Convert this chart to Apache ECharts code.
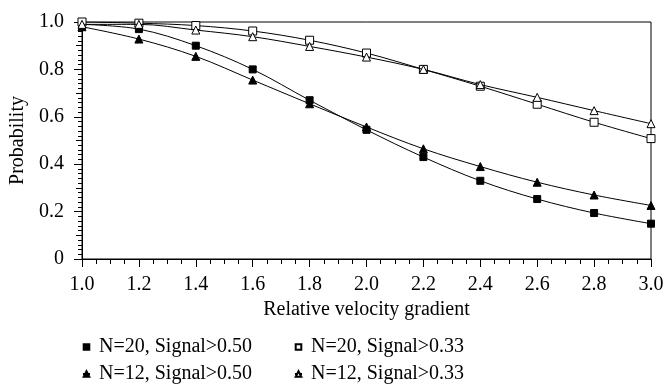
<!DOCTYPE html>
<html>
<head>
<meta charset="utf-8">
<script src="https://cdn.jsdelivr.net/npm/echarts@6/dist/echarts.min.js"></script>
<style>html,body{margin:0;padding:0;background:#fff;}#c{width:669px;height:385px;}</style>
</head>
<body>
<div id="c"></div>
<script>
var xValues = [1.0, 1.2, 1.4, 1.6, 1.8, 2.0, 2.2, 2.4, 2.6, 2.8, 3.0];
var n20s50 = [0.99, 0.97, 0.90, 0.80, 0.67, 0.545, 0.43, 0.33, 0.253, 0.194, 0.149];
var n20s33 = [1.0, 0.995, 0.985, 0.962, 0.923, 0.869, 0.80, 0.729, 0.653, 0.577, 0.508];
var n12s50 = [0.98, 0.928, 0.855, 0.755, 0.655, 0.557, 0.465, 0.39, 0.324, 0.27, 0.226];
var n12s33 = [0.99, 0.99, 0.966, 0.938, 0.897, 0.852, 0.80, 0.736, 0.682, 0.626, 0.571];
var seriesNames = ['N=20, Signal>0.50', 'N=20, Signal>0.33', 'N=12, Signal>0.50', 'N=12, Signal>0.33'];
var yTickLabels = ['0', '0.2', '0.4', '0.6', '0.8', '1.0'];

function pairs(arr) { return xValues.map(function (x, i) { return [x, arr[i]]; }); }
var FONT = 'Liberation Serif';

function mkSeries(name, data, symbol, filled, size, z) {
  return {
    name: name, type: 'line', data: pairs(data), smooth: 0.35,
    symbol: symbol, symbolSize: size, z: z,
    lineStyle: { color: '#000', width: 1 },
    itemStyle: { color: filled ? '#000' : '#fff', borderColor: '#000', borderWidth: 1 },
    emphasis: { disabled: true }
  };
}

function mkLegend(name, left, top) {
  return {
    data: [name], left: left, top: top, padding: 0, itemGap: 0,
    itemWidth: 7, itemHeight: 7, selectedMode: false,
    textStyle: { fontFamily: FONT, fontSize: 20, color: '#000', padding: [0, 0, 0, 4] }
  };
}

var chart = echarts.init(document.getElementById('c'), null, { renderer: 'canvas' });
chart.setOption({
  animation: false,
  backgroundColor: '#fff',
  grid: { left: 82, right: 18, top: 22, bottom: 126, show: true, borderColor: '#000', borderWidth: 1, backgroundColor: 'transparent' },
  legend: [
    mkLegend(seriesNames[0], 82, 337),
    mkLegend(seriesNames[1], 294, 337),
    mkLegend(seriesNames[2], 82, 364),
    mkLegend(seriesNames[3], 294, 364)
  ],
  xAxis: {
    type: 'value', min: 1.0, max: 3.0, interval: 0.2,
    name: 'Relative velocity gradient', nameLocation: 'middle', nameGap: 41,
    nameTextStyle: { fontFamily: FONT, fontSize: 20, color: '#000' },
    axisLine: { lineStyle: { color: '#000', width: 1 } },
    axisTick: { show: true, inside: false, length: 8, lineStyle: { color: '#000' } },
    minorTick: { show: true, splitNumber: 4, length: 5, lineStyle: { color: '#000' } },
    splitLine: { show: false },
    axisLabel: { fontFamily: FONT, fontSize: 20, color: '#000', margin: 16, formatter: function (v) { return v.toFixed(1); } }
  },
  yAxis: [{
    type: 'value', min: 0, max: 1, interval: 0.2,
    name: 'Probability', nameLocation: 'middle', nameGap: 49,
    nameTextStyle: { fontFamily: FONT, fontSize: 20, color: '#000' },
    axisLine: { show: true, lineStyle: { color: '#000', width: 1 } },
    axisTick: { show: true, inside: false, length: 8, lineStyle: { color: '#000' } },
    minorTick: { show: true, splitNumber: 10, length: 4, lineStyle: { color: '#000' } },
    splitLine: { show: false },
    axisLabel: { fontFamily: FONT, fontSize: 20, color: '#000', margin: 18, formatter: function (v) { return yTickLabels[Math.round(v / 0.2)]; } }
  }, {
    type: 'value', min: 0, max: 1, interval: 0.1, position: 'left', offset: 0,
    axisLine: { show: false },
    axisTick: { show: true, inside: false, length: 6, lineStyle: { color: '#000' } },
    splitLine: { show: false },
    axisLabel: { show: false }
  }],
  series: [
    mkSeries(seriesNames[0], n20s50, 'rect', true, 7, 3),
    mkSeries(seriesNames[1], n20s33, 'rect', false, 8, 4),
    mkSeries(seriesNames[2], n12s50, 'triangle', true, 8, 3),
    mkSeries(seriesNames[3], n12s33, 'triangle', false, 8, 5)
  ]
});
</script>
</body>
</html>
